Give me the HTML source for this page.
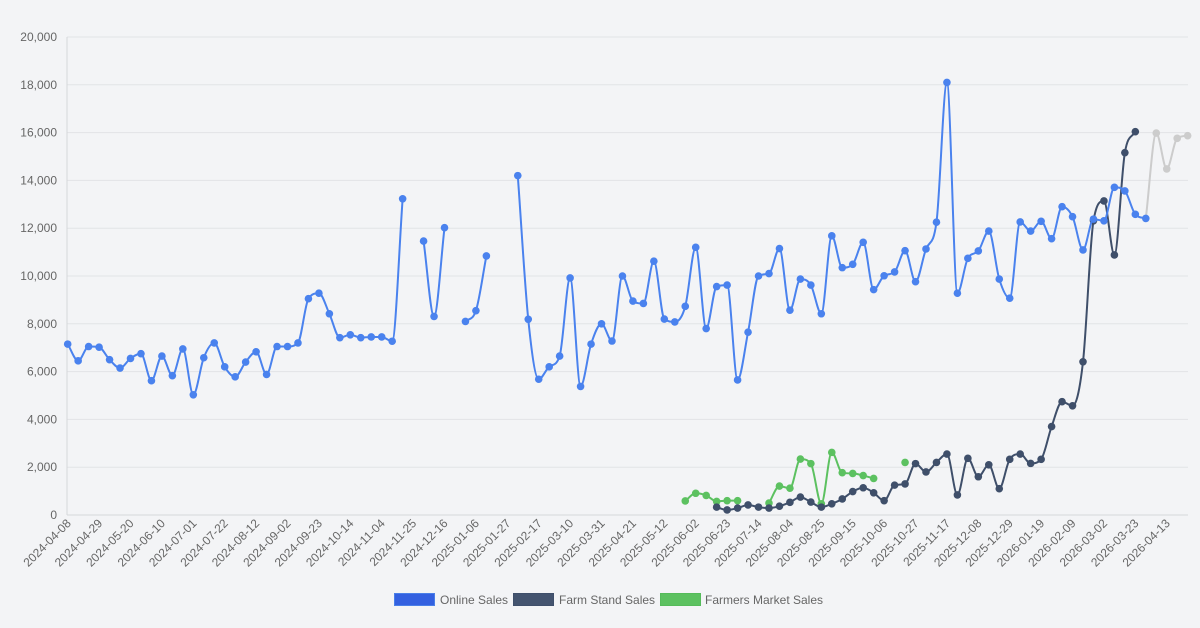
<!DOCTYPE html>
<html><head><meta charset="utf-8">
<style>
html,body{margin:0;padding:0;background:#f3f4f6;}
svg{display:block;font-family:"Liberation Sans",Arial,sans-serif;}
</style></head>
<body>
<svg id="c" width="1200" height="628" viewBox="0 0 1200 628" xmlns="http://www.w3.org/2000/svg">
<rect width="1200" height="628" fill="#f3f4f6"/>
<g id="grid"></g>
<g id="series"></g>
<g id="labels" font-size="12" fill="#666"></g>
<g font-size="12" fill="#666">
<rect x="394.5" y="593.5" width="40" height="12" fill="#3360e0" stroke="#4a7fe8"/>
<text x="440" y="604">Online Sales</text>
<rect x="513.5" y="593.5" width="40" height="12" fill="#44546f" stroke="#3f4f6a"/>
<text x="559" y="604">Farm Stand Sales</text>
<rect x="660.5" y="593.5" width="40" height="12" fill="#5cc160" stroke="#55bb5a"/>
<text x="705" y="604">Farmers Market Sales</text>
</g>
</svg>
<script>
var NS="http://www.w3.org/2000/svg";
var X0=67.7,STEP=10.467,Y0=515,PX=478/20000;
function X(i){return X0+i*STEP;}
function Y(v){return Y0-v*PX;}
function el(t,a,p){var e=document.createElementNS(NS,t);for(var k in a)e.setAttribute(k,a[k]);p.appendChild(e);return e;}
var grid=document.getElementById('grid'),lab=document.getElementById('labels'),ser=document.getElementById('series');
for(var k=0;k<=10;k++){var v=k*2000,y=Y(v);
 el('line',{x1:67,x2:1188,y1:y,y2:y,stroke:k==0?'#d6d7da':'#e2e3e6','stroke-width':1},grid);
 var t=el('text',{x:57,y:y+4,'text-anchor':'end'},lab);t.textContent=v.toLocaleString('en-US');}
el('line',{x1:67,x2:67,y1:37,y2:515,stroke:'#d6d7da'},grid);
var d0=new Date(Date.UTC(2024,3,8));
for(var i=0;i<=105;i+=3){var d=new Date(d0.getTime()+i*7*864e5);var s=d.toISOString().slice(0,10);
 var x=X(i)+4,y=524;var t=el('text',{x:x,y:y,'text-anchor':'end',transform:'rotate(-45 '+x+' '+y+')'},lab);t.textContent=s;}
var N=null;
var blue=[7150,6450,7050,7020,6500,6150,6550,6750,5620,6650,5830,6950,5030,6580,7200,6200,5780,6400,6830,5880,7050,7050,7200,9050,9280,8420,7420,7540,7420,7450,7450,7270,
13230,N,11460,8310,12020,N,8100,8550,10840,N,N,14200,8190,5680,6200,6650,9920,5380,7150,8000,7280,10000,8950,8850,10620,8200,8080,8730,11200,7800,9560,9620,5650,7650,10000,10100,11150,8570,9870,9620,8420,11680,
10350,10490,11410,9430,10010,10170,11060,9760,11130,12250,18100,9280,10740,11050,11880,9870,9070,12260,11880,12290,11560,12900,12480,11090,12380,12310,13710,13560,12580,12410];
var dark=[];for(var i=0;i<62;i++)dark.push(N);
dark=dark.concat([330,210,290,420,330,290,370,530,750,540,330,470,670,980,1140,930,600,1250,1300,2150,1800,2200,2550,840,2370,1600,2100,1100,2330,2550,2160,2330,3700,4740,4570,6410,12310,13140,10880,15160,16040]);
var green=[];for(var i=0;i<59;i++)green.push(N);
green=green.concat([590,910,820,570,600,600,N,N,500,1210,1120,2340,2150,470,2620,1770,1740,1650,1530,N,N,2200]);
var gray=[];for(var i=0;i<103;i++)gray.push(N);
gray=gray.concat([12410,15980,14480,15760,15870]);
function mono(p){
 var n=p.length,dl=[],m=[];
 for(var i=0;i<n-1;i++)dl.push((p[i+1][1]-p[i][1])/(p[i+1][0]-p[i][0]));
 for(var i=0;i<n;i++){
  if(i==0)m.push(dl[0]);else if(i==n-1)m.push(dl[n-2]);
  else if(dl[i-1]*dl[i]<=0)m.push(0);else m.push((dl[i-1]+dl[i])/2);}
 for(var i=0;i<n-1;i++){
  if(dl[i]==0){m[i]=0;m[i+1]=0;continue;}
  var a=m[i]/dl[i],b=m[i+1]/dl[i],s=a*a+b*b;
  if(s>9){var t=3/Math.sqrt(s);m[i]=t*a*dl[i];m[i+1]=t*b*dl[i];}}
 var d='M'+p[0][0]+','+p[0][1];
 for(var i=0;i<n-1;i++){var h=(p[i+1][0]-p[i][0])/3;
  d+=' C'+(p[i][0]+h)+','+(p[i][1]+m[i]*h)+' '+(p[i+1][0]-h)+','+(p[i+1][1]-m[i+1]*h)+' '+p[i+1][0]+','+p[i+1][1];}
 return d;}
function draw(data,color,skipFirstPt){
 var segs=[],cur=[];
 for(var i=0;i<data.length;i++){if(data[i]==null){if(cur.length)segs.push(cur);cur=[];}else cur.push([X(i),Y(data[i])]);}
 if(cur.length)segs.push(cur);
 segs.forEach(function(p){if(p.length>1)el('path',{d:mono(p),fill:'none',stroke:color,'stroke-width':2},ser);});
 segs.forEach(function(p){p.forEach(function(q){if(skipFirstPt&&q===segs[0][0])return;el('circle',{cx:q[0],cy:q[1],r:3.8,fill:color},ser);});});
}
draw(gray,'#cccccc',true);
draw(green,'#5cc160');
draw(dark,'#3f4f6a');
draw(blue,'#4a82ee');
</script>
</body></html>
